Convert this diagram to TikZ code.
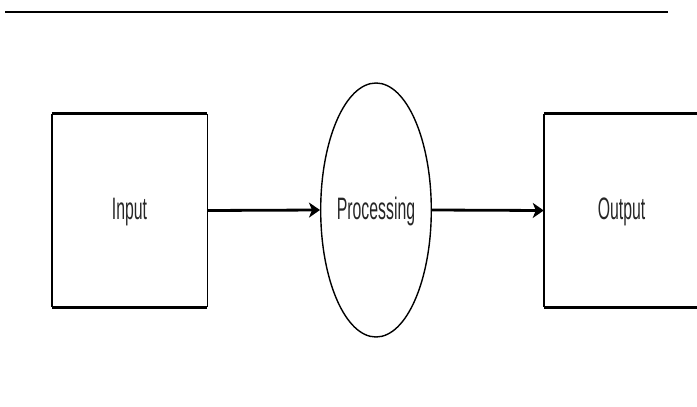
\documentclass[tikz,border=0pt]{standalone}
\usepackage{graphicx}
\usepackage{fontspec}
\setmainfont{Liberation Sans}
\usetikzlibrary{shapes.geometric,arrows.meta}
\begin{document}
\begin{tikzpicture}[x=1pt,y=-1pt,
  hedge/.style={line width=2.9pt},
  vedge/.style={line width=1.4pt},
  flow/.style={line width=2.8pt,-{Stealth[length=11pt,width=15pt,inset=3pt]}},
  blockbox/.style={rectangle,minimum width=155pt,minimum height=193pt,inner sep=0pt,
    font=\fontsize{31}{31}\selectfont,text=black!85,text depth=0pt,text height=0pt},
  procnode/.style={ellipse,draw,line width=1.4pt,minimum width=103pt,minimum height=254pt,
    inner sep=0pt,font=\fontsize{31}{31}\selectfont,text=black!85,text depth=0pt,text height=0pt}]
  \useasboundingbox (0,0) rectangle (697,407);

  % heading rule
  \coordinate (rule-l) at (5,12);
  \coordinate (rule-r) at (668,12);
  \draw[hedge] (rule-l) -- (rule-r);

  % blocks; text baselines sit 8.5pt below the centre line
  \node[blockbox] (in)  at (129.5,210.5) {\raisebox{-8.5pt}{\scalebox{0.51}[1]{Input}}};
  \node[procnode] (proc) at (376,210) {\raisebox{-9pt}{\scalebox{0.51}[1]{Processing}}};
  \node[blockbox] (out) at (621.5,210.5) {\raisebox{-8.5pt}{\scalebox{0.51}[1]{Output}}};

  % box outlines: heavier horizontal edges, lighter vertical edges
  \foreach \b in {in,out}{
    \draw[hedge] (\b.north west) -- (\b.north east);
    \draw[hedge] (\b.south west) -- (\b.south east);
    \draw[vedge] (\b.north west) -- (\b.south west);
    \draw[vedge] (\b.north east) -- (\b.south east);
  }

  % flow arrows
  \draw[flow] (in.east) -- (proc.west);
  \draw[flow] (proc.east) -- (out.west);
\end{tikzpicture}
\end{document}
